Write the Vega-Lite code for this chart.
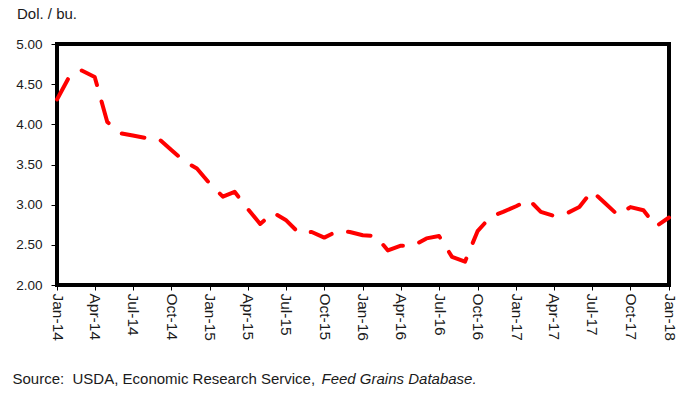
{
  "$schema": "https://vega.github.io/schema/vega-lite/v6.json",
  "width": 612,
  "height": 241,
  "autosize": "none",
  "padding": {"left": 57, "top": 44, "right": 11, "bottom": 108},
  "background": "white",
  "config": {
    "font": "Liberation Sans",
    "view": {"stroke": "black", "strokeWidth": 4}
  },
  "title": {
    "text": "Dol. / bu.",
    "orient": "top",
    "anchor": "start",
    "frame": "group",
    "dx": -40,
    "offset": 3,
    "baseline": "alphabetic",
    "fontSize": 15,
    "fontWeight": "normal",
    "color": "#1a1a1a"
  },
  "data": {
    "values": [
      {"date": "2014-01", "price": 4.31},
      {"date": "2014-02", "price": 4.61},
      {"date": "2014-03", "price": 4.67},
      {"date": "2014-04", "price": 4.59},
      {"date": "2014-05", "price": 4.03},
      {"date": "2014-06", "price": 3.89},
      {"date": "2014-07", "price": 3.86},
      {"date": "2014-08", "price": 3.83},
      {"date": "2014-09", "price": 3.82},
      {"date": "2014-10", "price": 3.68},
      {"date": "2014-11", "price": 3.54},
      {"date": "2014-12", "price": 3.45},
      {"date": "2015-01", "price": 3.26},
      {"date": "2015-02", "price": 3.10},
      {"date": "2015-03", "price": 3.16},
      {"date": "2015-04", "price": 2.95},
      {"date": "2015-05", "price": 2.76},
      {"date": "2015-06", "price": 2.90},
      {"date": "2015-07", "price": 2.81},
      {"date": "2015-08", "price": 2.65},
      {"date": "2015-09", "price": 2.66},
      {"date": "2015-10", "price": 2.59},
      {"date": "2015-11", "price": 2.67},
      {"date": "2015-12", "price": 2.66},
      {"date": "2016-01", "price": 2.62},
      {"date": "2016-02", "price": 2.61},
      {"date": "2016-03", "price": 2.43},
      {"date": "2016-04", "price": 2.49},
      {"date": "2016-05", "price": 2.49},
      {"date": "2016-06", "price": 2.58},
      {"date": "2016-07", "price": 2.61},
      {"date": "2016-08", "price": 2.35},
      {"date": "2016-09", "price": 2.29},
      {"date": "2016-10", "price": 2.67},
      {"date": "2016-11", "price": 2.85},
      {"date": "2016-12", "price": 2.91},
      {"date": "2017-01", "price": 2.98},
      {"date": "2017-02", "price": 3.06},
      {"date": "2017-03", "price": 2.91},
      {"date": "2017-04", "price": 2.86},
      {"date": "2017-05", "price": 2.89},
      {"date": "2017-06", "price": 2.97},
      {"date": "2017-07", "price": 3.17},
      {"date": "2017-08", "price": 3.02},
      {"date": "2017-09", "price": 2.87},
      {"date": "2017-10", "price": 2.97},
      {"date": "2017-11", "price": 2.93},
      {"date": "2017-12", "price": 2.73},
      {"date": "2018-01", "price": 2.84}
    ],
    "format": {"parse": {"date": "date:'%Y-%m'"}}
  },
  "mark": {
    "type": "line",
    "color": "#ff0000",
    "strokeWidth": 4,
    "strokeDash": [23, 17],
    "strokeCap": "round",
    "strokeJoin": "round",
    "clip": false
  },
  "encoding": {
    "x": {
      "field": "date",
      "type": "temporal",
      "scale": {
        "domain": [
          {"year": 2014, "month": 1, "date": 1},
          {"year": 2018, "month": 1, "date": 1}
        ]
      },
      "axis": {
        "values": [
          {"year": 2014, "month": 1, "date": 1},
          {"year": 2014, "month": 4, "date": 1},
          {"year": 2014, "month": 7, "date": 1},
          {"year": 2014, "month": 10, "date": 1},
          {"year": 2015, "month": 1, "date": 1},
          {"year": 2015, "month": 4, "date": 1},
          {"year": 2015, "month": 7, "date": 1},
          {"year": 2015, "month": 10, "date": 1},
          {"year": 2016, "month": 1, "date": 1},
          {"year": 2016, "month": 4, "date": 1},
          {"year": 2016, "month": 7, "date": 1},
          {"year": 2016, "month": 10, "date": 1},
          {"year": 2017, "month": 1, "date": 1},
          {"year": 2017, "month": 4, "date": 1},
          {"year": 2017, "month": 7, "date": 1},
          {"year": 2017, "month": 10, "date": 1},
          {"year": 2018, "month": 1, "date": 1}
        ],
        "format": "%b-%y",
        "labelAngle": 90,
        "labelAlign": "left",
        "labelBaseline": "middle",
        "labelFontSize": 15.5,
        "labelColor": "#1a1a1a",
        "labelPadding": 3,
        "labelOverlap": false,
        "labelFlush": false,
        "domain": false,
        "grid": false,
        "ticks": true,
        "tickSize": 5,
        "tickColor": "black",
        "title": "Source:\u00a0 USDA, Economic Research Service,",
        "titleX": -45,
        "titleY": 98,
        "titleAlign": "left",
        "titleAnchor": null,
        "titleBaseline": "alphabetic",
        "titleFontSize": 15,
        "titleFontWeight": "normal",
        "titleColor": "#1a1a1a"
      }
    },
    "y": {
      "field": "price",
      "type": "quantitative",
      "scale": {"domain": [2, 5], "nice": false, "zero": false},
      "axis": {
        "values": [2, 2.5, 3, 3.5, 4, 4.5, 5],
        "format": ".2f",
        "labelFontSize": 13.5,
        "labelColor": "#1a1a1a",
        "labelPadding": 9,
        "labelFlush": false,
        "labelOverlap": false,
        "domain": false,
        "grid": false,
        "tickSize": 6,
        "tickColor": "black",
        "title": "Feed Grains Database.",
        "titleAngle": 0,
        "titleX": 264,
        "titleY": 339,
        "titleAlign": "left",
        "titleAnchor": null,
        "titleBaseline": "alphabetic",
        "titleFontSize": 15,
        "titleFontWeight": "normal",
        "titleFontStyle": "italic",
        "titleColor": "#1a1a1a"
      }
    }
  }
}
